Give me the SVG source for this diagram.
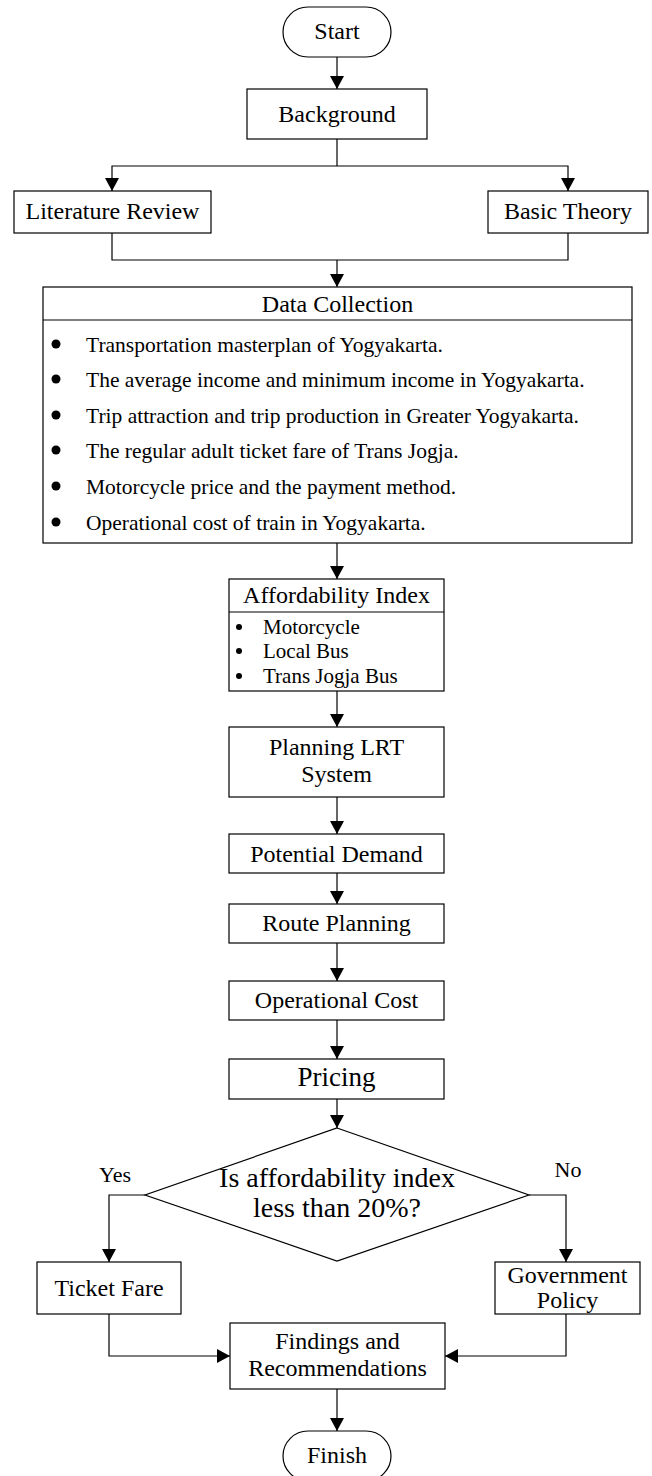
<svg xmlns="http://www.w3.org/2000/svg" width="652" height="1476" viewBox="0 0 652 1476">
<style>
.box{fill:#fff;stroke:#000;stroke-width:1.2}
.ln{fill:none;stroke:#000;stroke-width:1.2}
.t{font-family:"Liberation Serif","Times New Roman",serif;font-size:24px;fill:#000;text-anchor:middle}
.b{font-family:"Liberation Serif","Times New Roman",serif;font-size:21.5px;fill:#000}
.s{font-family:"Liberation Serif","Times New Roman",serif;font-size:21px;fill:#000}
.lbl{font-family:"Liberation Serif","Times New Roman",serif;font-size:22px;fill:#000;text-anchor:middle}
</style>
<defs>
<marker id="ah" markerUnits="userSpaceOnUse" viewBox="0 0 13 14" markerWidth="13" markerHeight="14" refX="13" refY="7" orient="auto">
<path d="M0,0 L13,7 L0,14 z" fill="#000"/>
</marker>
</defs>
<rect width="652" height="1476" fill="#fff"/>
<g id="connectors">
<line class="ln" x1="337" y1="57" x2="337" y2="89" marker-end="url(#ah)"/>
<polyline class="ln" points="337,139 337,166"/>
<polyline class="ln" points="337,166 112,166 112,191" marker-end="url(#ah)"/>
<polyline class="ln" points="337,166 568,166 568,191" marker-end="url(#ah)"/>
<polyline class="ln" points="112,233 112,260 568,260 568,233"/>
<line class="ln" x1="337" y1="260" x2="337" y2="287" marker-end="url(#ah)"/>
<line class="ln" x1="337" y1="543" x2="337" y2="579" marker-end="url(#ah)"/>
<line class="ln" x1="337" y1="691" x2="337" y2="727" marker-end="url(#ah)"/>
<line class="ln" x1="337" y1="797" x2="337" y2="834" marker-end="url(#ah)"/>
<line class="ln" x1="337" y1="873" x2="337" y2="904" marker-end="url(#ah)"/>
<line class="ln" x1="337" y1="943" x2="337" y2="981" marker-end="url(#ah)"/>
<line class="ln" x1="337" y1="1020" x2="337" y2="1059" marker-end="url(#ah)"/>
<line class="ln" x1="337" y1="1099" x2="337" y2="1128" marker-end="url(#ah)"/>
<polyline class="ln" points="145,1195 109,1195 109,1262" marker-end="url(#ah)"/>
<polyline class="ln" points="529,1195 566,1195 566,1262" marker-end="url(#ah)"/>
<polyline class="ln" points="109,1314 109,1356 230,1356" marker-end="url(#ah)"/>
<polyline class="ln" points="566,1314 566,1356 445,1356" marker-end="url(#ah)"/>
<line class="ln" x1="337" y1="1389" x2="337" y2="1431" marker-end="url(#ah)"/>
<text class="lbl" x="115" y="1182">Yes</text>
<text class="lbl" x="568" y="1177">No</text>
</g>
<g id="start">
<rect class="box" x="283" y="7" width="108" height="50" rx="25" ry="25"/>
<text class="t" x="337" y="39">Start</text>
</g>
<g id="background">
<rect class="box" x="247" y="89" width="180" height="50"/>
<text class="t" x="337" y="122">Background</text>
</g>
<g id="literature">
<rect class="box" x="14" y="191" width="197" height="42"/>
<text class="t" x="112.5" y="219">Literature Review</text>
</g>
<g id="theory">
<rect class="box" x="488" y="191" width="160" height="42"/>
<text class="t" x="568" y="219">Basic Theory</text>
</g>
<g id="data">
<rect class="box" x="43" y="287" width="589" height="256"/>
<line class="ln" x1="43" y1="320" x2="632" y2="320"/>
<text class="t" x="337.5" y="312">Data Collection</text>
<g fill="#000">
<circle cx="56" cy="344" r="4.5"/>
<circle cx="56" cy="379" r="4.5"/>
<circle cx="56" cy="415" r="4.5"/>
<circle cx="56" cy="450" r="4.5"/>
<circle cx="56" cy="486" r="4.5"/>
<circle cx="56" cy="522" r="4.5"/>
</g>
<text class="b" x="86" y="352">Transportation masterplan of Yogyakarta.</text>
<text class="b" x="86" y="387">The average income and minimum income in Yogyakarta.</text>
<text class="b" x="86" y="423">Trip attraction and trip production in Greater Yogyakarta.</text>
<text class="b" x="86" y="458">The regular adult ticket fare of Trans Jogja.</text>
<text class="b" x="86" y="494">Motorcycle price and the payment method.</text>
<text class="b" x="86" y="530">Operational cost of train in Yogyakarta.</text>
</g>
<g id="affordability">
<rect class="box" x="229" y="579" width="215" height="112"/>
<line class="ln" x1="229" y1="612" x2="444" y2="612"/>
<text class="t" x="336.5" y="603">Affordability Index</text>
<g fill="#000">
<circle cx="239" cy="627" r="3"/>
<circle cx="239" cy="651" r="3"/>
<circle cx="239" cy="676" r="3"/>
</g>
<text class="s" x="263" y="634">Motorcycle</text>
<text class="s" x="263" y="658">Local Bus</text>
<text class="s" x="263" y="683">Trans Jogja Bus</text>
</g>
<g id="planning">
<rect class="box" x="229" y="727" width="215" height="70"/>
<text class="t" x="336.5" y="755">Planning LRT</text>
<text class="t" x="336.5" y="782">System</text>
</g>
<g id="demand">
<rect class="box" x="229" y="834" width="215" height="39"/>
<text class="t" x="336.5" y="862">Potential Demand</text>
</g>
<g id="route">
<rect class="box" x="229" y="904" width="215" height="39"/>
<text class="t" x="336.5" y="931">Route Planning</text>
</g>
<g id="opcost">
<rect class="box" x="229" y="981" width="215" height="39"/>
<text class="t" x="336.5" y="1008">Operational Cost</text>
</g>
<g id="pricing">
<rect class="box" x="229" y="1059" width="215" height="40"/>
<text class="t" x="336.5" y="1086" style="font-size:27px">Pricing</text>
</g>
<g id="decision">
<polygon class="box" points="337,1128 529,1195 337,1261 145,1195"/>
<text class="t" x="337" y="1187" style="font-size:28px">Is affordability index</text>
<text class="t" x="337" y="1217" style="font-size:28px">less than 20%?</text>
</g>
<g id="ticket">
<rect class="box" x="37" y="1262" width="144" height="52"/>
<text class="t" x="109" y="1296">Ticket Fare</text>
</g>
<g id="government">
<rect class="box" x="495" y="1262" width="145" height="52"/>
<text class="t" x="567.5" y="1283">Government</text>
<text class="t" x="567.5" y="1308">Policy</text>
</g>
<g id="findings">
<rect class="box" x="230" y="1323" width="215" height="66"/>
<text class="t" x="337.5" y="1349">Findings and</text>
<text class="t" x="337.5" y="1376">Recommendations</text>
</g>
<g id="finish">
<rect class="box" x="283" y="1431" width="108" height="50" rx="25" ry="25"/>
<text class="t" x="337" y="1463">Finish</text>
</g>
</svg>
